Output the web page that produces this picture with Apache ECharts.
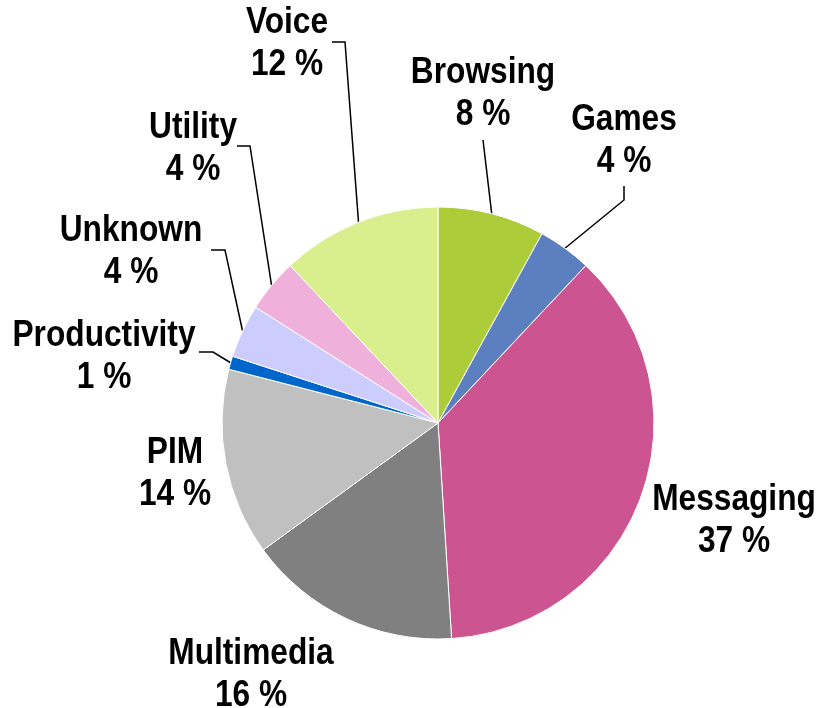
<!DOCTYPE html>
<html>
<head>
<meta charset="utf-8">
<script src="https://cdn.jsdelivr.net/npm/echarts@6/dist/echarts.min.js"></script>
<style>
  html, body { margin: 0; padding: 0; background: #fff; }
  #chart { width: 821px; height: 708px; }
</style>
</head>
<body>
<div id="chart"></div>
<script>
// Share of usage by application category (percent)
const categories = ['Browsing', 'Games', 'Messaging', 'Multimedia', 'PIM', 'Productivity', 'Unknown', 'Utility', 'Voice'];
const shares = [8, 4, 37, 16, 14, 1, 4, 4, 12];
const colors = ['#accc3a', '#5b7fbf', '#cc5490', '#808080', '#c0c0c0', '#0066cc', '#ccccff', '#f0b0dc', '#d9ee8c'];

// Label placement around the pie: text centre plus the bend of its leader line
const labelPlacement = {
  Browsing:     { x: 483, y: 94,  line: [[483, 140]] },
  Games:        { x: 624, y: 141, line: [[624, 200], [624, 186]] },
  Messaging:    { x: 734, y: 521, line: null },
  Multimedia:   { x: 251, y: 675, line: null },
  PIM:          { x: 175, y: 474, line: null },
  Productivity: { x: 104, y: 357, line: [[213, 352], [199, 352]] },
  Unknown:      { x: 131, y: 252, line: [[225, 250], [211, 250]] },
  Utility:      { x: 193, y: 149, line: [[250, 146], [237, 146]] },
  Voice:        { x: 287, y: 44,  line: [[345, 42], [332, 42]] }
};

// Labels use a slightly condensed bold face
const LABEL_CONDENSE = 0.88;

const chart = echarts.init(document.getElementById('chart'), null, { renderer: 'canvas' });

chart.setOption({
  animation: false,
  series: [{
    type: 'pie',
    center: [438, 423],
    radius: 216,
    startAngle: 90,
    clockwise: true,
    avoidLabelOverlap: false,
    itemStyle: { borderColor: '#ffffff', borderWidth: 1 },
    label: {
      show: true,
      position: 'outside',
      formatter: '{b}\n{c} %',
      fontFamily: '"Liberation Sans", Arial, sans-serif',
      fontWeight: 'bold',
      fontSize: 36,
      lineHeight: 42,
      color: '#000',
      align: 'center'
    },
    labelLine: {
      show: true,
      lineStyle: { color: '#000', width: 1.5 }
    },
    labelLayout: function (params) {
      const name = categories[params.dataIndex];
      const p = labelPlacement[name];
      const out = { x: p.x, y: p.y, align: 'center', verticalAlign: 'middle' };
      if (p.line && params.labelLinePoints) {
        out.labelLinePoints = [params.labelLinePoints[0]].concat(p.line);
      }
      return out;
    },
    data: categories.map(function (name, i) {
      const placed = labelPlacement[name];
      return {
        name: name,
        value: shares[i],
        itemStyle: { color: colors[i] },
        labelLine: { show: !!placed.line }
      };
    })
  }]
});

// Condense the label text horizontally around each label's centre
const zr = chart.getZr();
const condensed = new Set();
zr.storage.getDisplayList(true).forEach(function (el) {
  const host = el.type === 'tspan' ? el.parent : (el.type === 'text' ? el : null);
  if (host && !condensed.has(host)) {
    condensed.add(host);
    host.scaleX = LABEL_CONDENSE;
    host.markRedraw();
  }
});
zr.refreshImmediately();
</script>
</body>
</html>
